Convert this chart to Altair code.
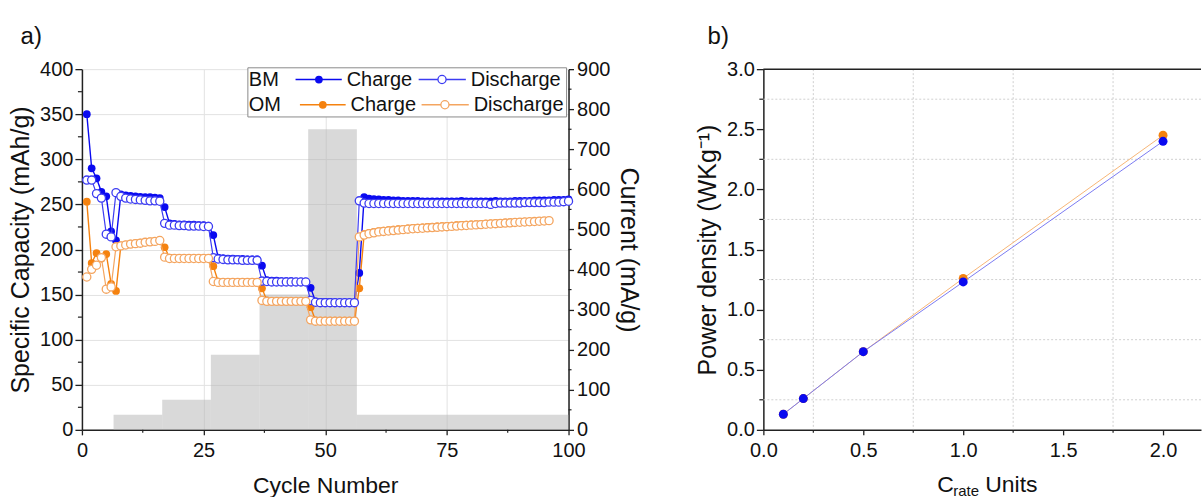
import altair as alt
import pandas as pd

# ---------------- data ----------------
bm_charge = [350, 290, 279, 264, 259, 220, 210,
             261, 260, 259.5, 259, 258.5, 258, 258, 257.5, 257,
             247,
             229, 228.5, 228, 228, 227.5, 227.5, 227, 227, 226.5,
             216,
             191, 190.5, 190, 190, 189.5, 189.5, 189, 189, 189,
             182,
             166, 165.5, 165.5, 165, 165, 165, 164.5, 164.5, 164.5,
             157.5,
             142.5, 142, 142, 142, 141.5, 141.5, 141.5, 141.5, 141.5,
             174,
             258, 256.5, 256, 255.5, 255, 255, 254.5, 254.5, 254, 254,
             254, 254, 253.5, 253.5, 253.5, 253.5, 253.5, 253.5, 253.5, 253.5,
             254, 253.5, 253.5, 253.5, 253.5, 253.5, 253.5, 254, 253.5, 253.5,
             253.5, 254, 254, 254, 254, 254.5, 254.5, 254.5, 254.5, 255,
             255, 255, 255.5]

bm_discharge = [277, 277, 262, 257, 217, 214, 263,
                259, 257, 256, 255.5, 255, 254.5, 254, 254, 253.5,
                229,
                227, 227, 226.5, 226.5, 226, 226, 226, 225.5, 225.5,
                191,
                189.5, 189, 188.5, 188.5, 188.5, 188, 188, 188, 188,
                165,
                164.5, 164, 164, 164, 164, 164, 164, 164, 164,
                143.5,
                141.5, 141, 141, 141, 141, 141, 141, 141, 141,
                254,
                251.5, 251, 251, 251, 251, 251, 251, 251, 251, 251,
                251, 251, 251, 251, 251, 251, 251, 251, 251, 251,
                251, 251, 251, 251, 251, 251, 250, 251, 251.5, 251.5,
                251.5, 251.5, 251.5, 252, 252, 252, 252, 252, 252.5, 252.5,
                252.5, 253, 253.5]

om_charge = [253, 185, 196, 190, 195, 162, 154,
             204.5, 205.5, 206.5, 207, 207.5, 208.5, 209, 209.5, 210.5,
             202.5,
             191, 190.5, 190.5, 190.5, 190.5, 190.5, 190.5, 190.5, 190.5,
             181.5,
             164.5, 164, 164, 164, 164, 164, 164, 164, 164,
             157,
             143.5, 143, 143, 143, 143, 143, 143, 143, 143,
             136,
             121.5, 121, 121, 121, 121, 121, 121, 121, 121,
             157,
             217, 218.5, 219.5, 220.5, 221, 221.5, 222, 222.5, 223, 223.5,
             224, 224.3, 224.6, 225, 225.3, 225.6, 226, 226.3, 226.6, 227,
             227.3, 227.6, 228, 228.2, 228.5, 228.8, 229, 229.3, 229.5, 229.8,
             230, 230.3, 230.5, 230.8, 231, 231.2, 231.5, 231.8, 232]

om_discharge = [169.5, 178, 182.5, 191, 156, 158.5, 203,
                204, 205, 206, 206.5, 207, 208, 208.5, 209, 210,
                191.5,
                190, 190, 190, 190, 190, 190, 190, 190, 190,
                164.5,
                163.5, 163.5, 163.5, 163.5, 163.5, 163.5, 163.5, 163.5, 163.5,
                143.5,
                142.5, 142.5, 142.5, 142.5, 142.5, 142.5, 142.5, 142.5, 142.5,
                122,
                120.5, 120.5, 120.5, 120.5, 120.5, 120.5, 120.5, 120.5, 120.5,
                214,
                216, 217.5, 218.5, 219.5, 220, 220.5, 221, 221.5, 222, 222.5,
                223, 223.3, 223.6, 224, 224.3, 224.6, 225, 225.3, 225.6, 226,
                226.3, 226.6, 227, 227.3, 227.6, 228, 228.3, 228.6, 229, 229.3,
                229.6, 230, 230.2, 230.5, 230.8, 231, 231.3, 231.6, 232]

cur_start = [6.5, 16.5, 26.5, 36.5, 46.5, 56.5]
cur_end = [16.5, 26.5, 36.5, 46.5, 56.5, 100]
cur_value = [37.5, 75, 187.5, 337.5, 750, 37.5]

c_rate = [0.1, 0.2, 0.5, 1.0, 2.0]
pd_bm = [0.13, 0.26, 0.65, 1.23, 2.40]
pd_om = [0.13, 0.26, 0.65, 1.26, 2.45]

# axis tick values
xa_major = [0, 25, 50, 75, 100]
xa_minor = [12.5, 37.5, 62.5, 87.5]
ya_major = [0, 50, 100, 150, 200, 250, 300, 350, 400]
ya_minor = [25, 75, 125, 175, 225, 275, 325, 375]
yc_major = [0, 100, 200, 300, 400, 500, 600, 700, 800, 900]
yc_minor = [50, 150, 250, 350, 450, 550, 650, 750, 850]
xb_major = [0, 0.5, 1.0, 1.5, 2.0]
xb_minor = [0.25, 0.75, 1.25, 1.75]
yb_major = [0, 0.5, 1.0, 1.5, 2.0, 2.5, 3.0]
yb_minor = [0.25, 0.75, 1.25, 1.75, 2.25, 2.75]

# ---------------- styling ----------------
FONT = "Liberation Sans"
BLUE = "#0a0af0"
BLUE_OPEN = "#3c3cf2"
ORANGE = "#f5820f"
ORANGE_OPEN = "#f4a560"
AX = "#222222"
TXT = "#111111"
WA, H = 487, 361
WB = 438

common_axis = dict(labelFont=FONT, titleFont=FONT, labelFontSize=20, titleFontSize=23,
                   titleFontWeight="normal", labelColor=TXT, titleColor=TXT,
                   domainColor=AX, domainWidth=1.5, tickColor=AX, tickWidth=1.3,
                   labelFlush=False, labelOverlap=False)


def xa(field):
    return alt.X(field, type="quantitative",
                 scale=alt.Scale(domain=[0, 100], nice=False, zero=False),
                 axis=alt.Axis(values=xa_major, title="Cycle Number", grid=True,
                               gridColor="#e2e2e2", gridWidth=1, tickSize=5,
                               labelPadding=6, titlePadding=14, **common_axis))


def ya(field):
    return alt.Y(field, type="quantitative",
                 scale=alt.Scale(domain=[0, 400], nice=False),
                 axis=alt.Axis(values=ya_major, title="Specific Capacity (mAh/g)", orient="left",
                               grid=True, gridColor="#e2e2e2", gridWidth=1, tickSize=7,
                               labelPadding=2, titlePadding=6, **dict(common_axis, titleFontSize=25)))


def yc(field):
    return alt.Y(field, type="quantitative",
                 scale=alt.Scale(domain=[0, 900], nice=False),
                 axis=alt.Axis(values=yc_major, title="Current (mA/g)", orient="right",
                               grid=False, tickSize=5, labelPadding=3, titlePadding=6,
                               **dict(common_axis, titleFontSize=25)))


def xb(field):
    return alt.X(field, type="quantitative",
                 scale=alt.Scale(domain=[0, 2.19], nice=False, zero=False),
                 axis=alt.Axis(values=xb_major, format=".1f", title=None, grid=False,
                               tickSize=5, labelPadding=6, **common_axis))


def yb(field):
    return alt.Y(field, type="quantitative",
                 scale=alt.Scale(domain=[0, 3], nice=False),
                 axis=alt.Axis(values=yb_major, format=".1f", title="Power density (WKg⁻¹)",
                               grid=False, tickSize=7, labelPadding=2, titlePadding=6,
                               **dict(common_axis, titleFontSize=25)))


def series_df(vals):
    return pd.DataFrame({"cycle": list(range(1, len(vals) + 1)), "cap": vals})


# ---------------- panel a ----------------
cur_df = pd.DataFrame({"s": cur_start, "e": cur_end, "c": cur_value})
bars = alt.Chart(cur_df).mark_rect(color="#b4b4b4", opacity=0.5).encode(
    x=xa("s"), x2="e", y=yc("c"), y2=alt.datum(0))
rmin = alt.Chart(pd.DataFrame({"v": yc_minor})).mark_rule(color=AX, strokeWidth=1.2).encode(
    y=yc("v"), x=alt.value(WA), x2=alt.value(WA + 3))
cur_layer = alt.layer(bars, rmin)


def line(vals, color, w=1.4):
    return alt.Chart(series_df(vals)).mark_line(color=color, strokeWidth=w).encode(
        x=xa("cycle"), y=ya("cap"))


def filled(vals, color):
    return alt.Chart(series_df(vals)).mark_point(shape="circle", filled=True, color=color,
                                                 size=60, opacity=1).encode(
        x=xa("cycle"), y=ya("cap"))


def hollow(vals, color):
    return alt.Chart(series_df(vals)).mark_point(shape="circle", filled=False, fill="white",
                                                 fillOpacity=1, stroke=color, strokeWidth=1.3,
                                                 size=66, opacity=1).encode(
        x=xa("cycle"), y=ya("cap"))


# legend (placed in data coordinates of panel a)
leg_box = pd.DataFrame({"x": [34.1], "x2": [99.6], "y": [401.5], "y2": [347]})
leg_txt = pd.DataFrame({"x": [34.3, 54.4, 79.9, 34.3, 55.2, 80.5],
                        "y": [388.5, 388.5, 388.5, 360.5, 360.5, 360.5],
                        "t": ["BM", "Charge", "Discharge", "OM", "Charge", "Discharge"]})
leg_seg = pd.DataFrame({"x": [43.9, 69.2, 44.8, 69.8], "x2": [53.4, 78.9, 54.2, 79.5],
                        "y": [388.5, 388.5, 360.5, 360.5],
                        "col": [BLUE, BLUE_OPEN, ORANGE, ORANGE_OPEN]})
leg_fill = pd.DataFrame({"x": [48.7, 49.5], "y": [388.5, 360.5], "col": [BLUE, ORANGE]})
leg_open = pd.DataFrame({"x": [74.0, 74.6], "y": [388.5, 360.5], "col": [BLUE_OPEN, ORANGE_OPEN]})

legend = alt.layer(
    alt.Chart(leg_box).mark_rect(fill="white", stroke="#8a8a8a", strokeWidth=1).encode(
        x=xa("x"), x2="x2", y=ya("y"), y2="y2"),
    alt.Chart(leg_seg).mark_rule(strokeWidth=1.4).encode(
        x=xa("x"), x2="x2", y=ya("y"), color=alt.Color("col:N", scale=None)),
    alt.Chart(leg_fill).mark_point(shape="circle", filled=True, size=60, opacity=1).encode(
        x=xa("x"), y=ya("y"), color=alt.Color("col:N", scale=None)),
    alt.Chart(leg_open).mark_point(shape="circle", filled=False, fill="white", fillOpacity=1,
                                   strokeWidth=1.3, size=66, opacity=1).encode(
        x=xa("x"), y=ya("y"), stroke=alt.Stroke("col:N", scale=None)),
    alt.Chart(leg_txt).mark_text(align="left", baseline="middle", font=FONT, fontSize=20,
                                 color=TXT).encode(x=xa("x"), y=ya("y"), text="t"),
)

xmin_a = alt.Chart(pd.DataFrame({"v": xa_minor})).mark_rule(color=AX, strokeWidth=1.2).encode(
    x=xa("v"), y=alt.value(H), y2=alt.value(H + 3))
ymin_a = alt.Chart(pd.DataFrame({"v": ya_minor})).mark_rule(color=AX, strokeWidth=1.2).encode(
    y=ya("v"), x=alt.value(0), x2=alt.value(-4))

cap_layer = alt.layer(
    line(bm_charge, BLUE), line(om_charge, ORANGE),
    filled(bm_charge, BLUE), filled(om_charge, ORANGE),
    line(bm_discharge, BLUE_OPEN, 1.2), line(om_discharge, ORANGE_OPEN, 1.2),
    hollow(bm_discharge, BLUE_OPEN), hollow(om_discharge, ORANGE_OPEN),
    legend, xmin_a, ymin_a,
)

panel_a = alt.layer(cur_layer, cap_layer).resolve_scale(y="independent").properties(
    width=WA, height=H,
    title=alt.TitleParams("a)", anchor="start", frame="bounds", font=FONT, fontSize=24,
                          fontWeight="normal", color=TXT, dx=12, offset=10))

# ---------------- panel b ----------------
pdf_bm = pd.DataFrame({"c": c_rate, "p": pd_bm})
pdf_om = pd.DataFrame({"c": c_rate, "p": pd_om})

gx = alt.Chart(pd.DataFrame({"v": xb_minor})).mark_rule(color="#d0d0d0", strokeWidth=1,
                                                        strokeDash=[2, 2]).encode(x=xb("v"))
gy = alt.Chart(pd.DataFrame({"v": yb_minor})).mark_rule(color="#d0d0d0", strokeWidth=1,
                                                        strokeDash=[2, 2]).encode(y=yb("v"))
xmin_b = alt.Chart(pd.DataFrame({"v": xb_minor})).mark_rule(color=AX, strokeWidth=1.2).encode(
    x=xb("v"), y=alt.value(H), y2=alt.value(H + 3))
ymin_b = alt.Chart(pd.DataFrame({"v": yb_minor})).mark_rule(color=AX, strokeWidth=1.2).encode(
    y=yb("v"), x=alt.value(0), x2=alt.value(-4))
top_b = alt.Chart(pd.DataFrame({"v": [0]})).mark_rule(color=AX, strokeWidth=1.5).encode(
    y=alt.value(0), x=alt.value(0), x2=alt.value(WB))

line_om = alt.Chart(pdf_om).mark_line(color="#f7b676", strokeWidth=1).encode(x=xb("c"), y=yb("p"))
line_bm = alt.Chart(pdf_bm).mark_line(color="#7b7bf2", strokeWidth=1).encode(x=xb("c"), y=yb("p"))
pt_om = alt.Chart(pdf_om).mark_circle(color=ORANGE, size=80, opacity=1).encode(x=xb("c"), y=yb("p"))
pt_bm = alt.Chart(pdf_bm).mark_circle(color=BLUE, size=80, opacity=1).encode(x=xb("c"), y=yb("p"))

title_c = alt.Chart(pd.DataFrame({"t": ["C"]})).mark_text(
    align="left", baseline="alphabetic", font=FONT, fontSize=23, color=TXT).encode(
    text="t", x=alt.value(174), y=alt.value(H + 62))
title_rate = alt.Chart(pd.DataFrame({"t": ["rate"]})).mark_text(
    align="left", baseline="alphabetic", font=FONT, fontSize=15, color=TXT).encode(
    text="t", x=alt.value(190), y=alt.value(H + 66))
title_units = alt.Chart(pd.DataFrame({"t": ["Units"]})).mark_text(
    align="left", baseline="alphabetic", font=FONT, fontSize=23, color=TXT).encode(
    text="t", x=alt.value(222), y=alt.value(H + 62))

panel_b = alt.layer(gx, gy, line_om, line_bm, pt_om, pt_bm, xmin_b, ymin_b, top_b,
                    title_c, title_rate, title_units).properties(
    width=WB, height=H,
    title=alt.TitleParams("b)", anchor="start", frame="bounds", font=FONT, fontSize=24,
                          fontWeight="normal", color=TXT, dx=12, offset=10))

chart = alt.hconcat(panel_a, panel_b, spacing=54).properties(
    padding={"left": 8, "top": 25, "right": 0, "bottom": 0}
).configure(font=FONT).configure_view(stroke=None)

chart.save("out.html", embed_options={"renderer": "svg", "actions": False})
